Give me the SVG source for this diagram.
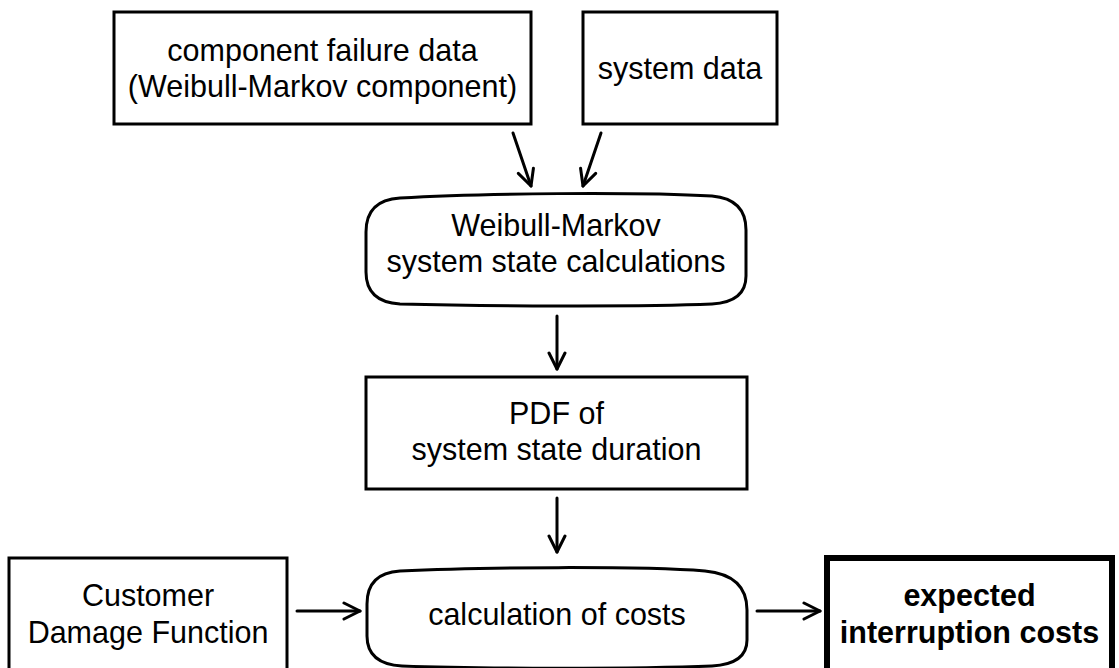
<svg xmlns="http://www.w3.org/2000/svg" width="1119" height="668" viewBox="0 0 1119 668">
  <style>
    .box { fill: #ffffff; stroke: #000000; stroke-width: 3; }
    .bold-box { fill: #ffffff; stroke: #000000; stroke-width: 6; }
    .lbl { font-family: "Liberation Sans", Arial, Helvetica, sans-serif; font-size: 30.5px; fill: #000000; text-anchor: middle; }
    .lbl-b { font-weight: bold; }
    .edge { fill: none; stroke: #000000; stroke-width: 3; stroke-linecap: round; }
  </style>
  <defs>
    <marker id="arrow" viewBox="0 0 20 20" refX="18" refY="10" markerWidth="20" markerHeight="20" markerUnits="userSpaceOnUse" orient="auto">
      <path d="M 2 2 L 18 10 L 2 18" fill="none" stroke="#000000" stroke-width="3" stroke-linecap="round" stroke-linejoin="round"/>
    </marker>
  </defs>

  <rect width="1119" height="668" fill="#ffffff"/>

  <!-- input: component failure data -->
  <g id="node-component-data">
    <rect class="box" x="114" y="12" width="417" height="112"/>
    <text class="lbl" x="322.5" y="61">component failure data</text>
    <text class="lbl" x="322.5" y="97">(Weibull-Markov component)</text>
  </g>

  <!-- input: system data -->
  <g id="node-system-data">
    <rect class="box" x="583" y="12" width="194" height="112"/>
    <text class="lbl" x="680" y="79">system data</text>
  </g>

  <!-- process: system state calculations -->
  <g id="node-state-calc">
    <path class="box" d="M 400 198 C 480 193 640 192 712 196 Q 746 199 746 230 L 746 276 Q 746 302 712 304 C 640 307 480 306 400 304 Q 366 302 366 272 L 366 232 Q 366 200 400 198 Z"/>
    <text class="lbl" x="556" y="236">Weibull-Markov</text>
    <text class="lbl" x="556" y="272">system state calculations</text>
  </g>

  <!-- intermediate result: duration PDF -->
  <g id="node-pdf">
    <rect class="box" x="366" y="377" width="381" height="112"/>
    <text class="lbl" x="556.5" y="424">PDF of</text>
    <text class="lbl" x="556.5" y="460">system state duration</text>
  </g>

  <!-- input: customer damage function -->
  <g id="node-cdf">
    <rect class="box" x="9" y="558" width="278" height="120"/>
    <text class="lbl" x="148" y="606">Customer</text>
    <text class="lbl" x="148" y="643">Damage Function</text>
  </g>

  <!-- process: cost calculation -->
  <g id="node-cost-calc">
    <path class="box" d="M 400 571 C 480 567 640 566 705 571 Q 747 575 747 610 L 747 640 Q 747 664 712 666 C 640 669 480 669 402 666 Q 367 664 367 636 L 367 604 Q 367 573 400 571 Z"/>
    <text class="lbl" x="557" y="625">calculation of costs</text>
  </g>

  <!-- output: expected interruption costs -->
  <g id="node-result">
    <rect class="bold-box" x="827" y="558" width="285" height="120"/>
    <text class="lbl lbl-b" x="969.5" y="606">expected</text>
    <text class="lbl lbl-b" x="969.5" y="643">interruption costs</text>
  </g>

  <!-- connectors -->
  <g id="connectors">
    <line class="edge" x1="513" y1="133" x2="531" y2="186" marker-end="url(#arrow)"/>
    <line class="edge" x1="601" y1="133" x2="583" y2="186" marker-end="url(#arrow)"/>
    <line class="edge" x1="557" y1="316" x2="557" y2="369" marker-end="url(#arrow)"/>
    <line class="edge" x1="557" y1="498" x2="557" y2="552" marker-end="url(#arrow)"/>
    <line class="edge" x1="297" y1="611" x2="360" y2="611" marker-end="url(#arrow)"/>
    <line class="edge" x1="757" y1="611" x2="820" y2="611" marker-end="url(#arrow)"/>
  </g>
</svg>
